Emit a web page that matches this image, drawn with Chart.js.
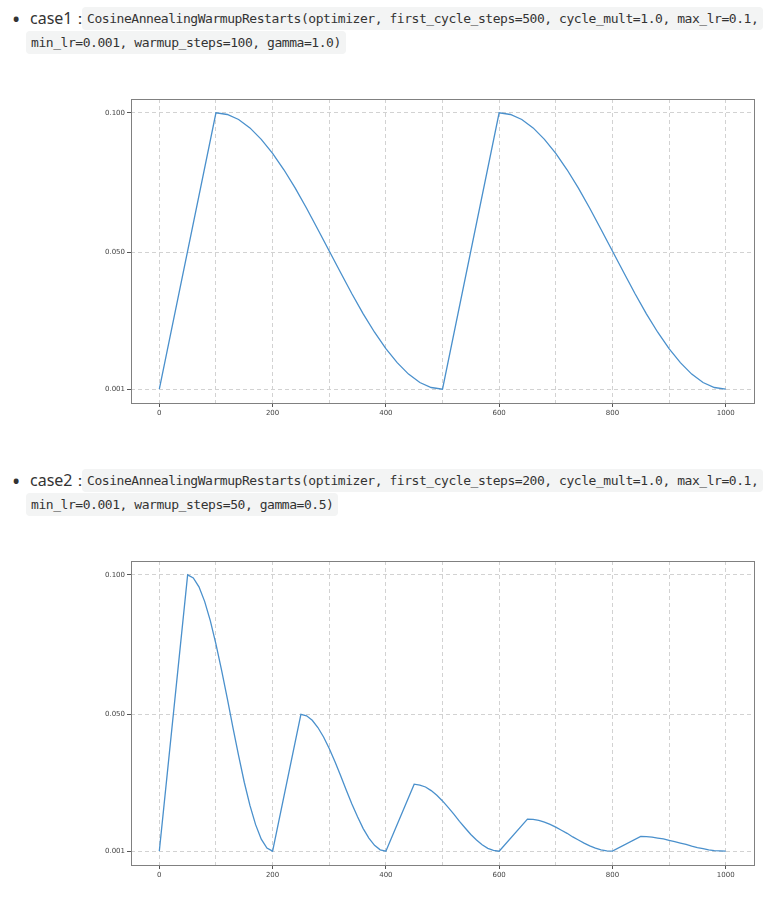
<!DOCTYPE html>
<html>
<head>
<meta charset="utf-8">
<script src="https://cdn.jsdelivr.net/npm/chart.js@4/dist/chart.umd.min.js"></script>
<style>
  body { margin: 0; background: #fff; }
  #page { position: relative; width: 779px; height: 899px; overflow: hidden; font-family: "Noto Sans", "Open Sans", sans-serif; color: #333; }
  .bullet { position: absolute; left: 12px; font-size: 22px; line-height: 24px; }
  .case { position: absolute; left: 30px; font-size: 16px; line-height: 24px; }
  .code { position: absolute; height: 23px; background: #f3f4f4; border-radius: 4px; font-family: "DejaVu Sans Mono", "Liberation Mono", monospace; font-size: 13px; letter-spacing: -0.45px; line-height: 23px; color: #333; padding: 0 5px; white-space: pre; }
  canvas { position: absolute; left: 0; }
</style>
</head>
<body>
<div id="page">
  <div class="bullet" style="top:6px">•</div>
  <div class="case" style="top:6px">case1：</div>
  <div class="code" style="top:7px;left:82px">CosineAnnealingWarmupRestarts(optimizer, first_cycle_steps=500, cycle_mult=1.0, max_lr=0.1,</div>
  <div class="code" style="top:31px;left:26px">min_lr=0.001, warmup_steps=100, gamma=1.0)</div>
  <canvas id="chart1" width="779" height="350" style="top:80px"></canvas>

  <div class="bullet" style="top:468px">•</div>
  <div class="case" style="top:468px">case2：</div>
  <div class="code" style="top:469px;left:82px">CosineAnnealingWarmupRestarts(optimizer, first_cycle_steps=200, cycle_mult=1.0, max_lr=0.1,</div>
  <div class="code" style="top:493px;left:26px">min_lr=0.001, warmup_steps=50, gamma=0.5)</div>
  <canvas id="chart2" width="779" height="350" style="top:540px"></canvas>
</div>
<script>
// case1: two cycles of 500 steps, warmup 100
const case1Steps = [0,
  100, 120, 140, 160, 180, 200, 220, 240, 260, 280, 300, 320, 340, 360, 380, 400, 420, 440, 460, 480, 500,
  600, 620, 640, 660, 680, 700, 720, 740, 760, 780, 800, 820, 840, 860, 880, 900, 920, 940, 960, 980, 1000];
const case1Lr = [0.001,
  0.1, 0.0994, 0.0976, 0.0946, 0.0905, 0.0855, 0.0796, 0.0730, 0.0658, 0.0582, 0.0505, 0.0428, 0.0352, 0.0280, 0.0214, 0.0155, 0.0105, 0.0064, 0.0034, 0.0016, 0.001,
  0.1, 0.0994, 0.0976, 0.0946, 0.0905, 0.0855, 0.0796, 0.0730, 0.0658, 0.0582, 0.0505, 0.0428, 0.0352, 0.0280, 0.0214, 0.0155, 0.0105, 0.0064, 0.0034, 0.0016, 0.001];

// case2: cycles of 200 steps, warmup 50, peak halves every cycle
const case2Steps = [0,
  50, 60, 70, 80, 90, 100, 110, 120, 130, 140, 150, 160, 170, 180, 190, 200,
  250, 260, 270, 280, 290, 300, 310, 320, 330, 340, 350, 360, 370, 380, 390, 400,
  450, 460, 470, 480, 490, 500, 510, 520, 530, 540, 550, 560, 570, 580, 590, 600,
  650, 660, 670, 680, 690, 700, 710, 720, 730, 740, 750, 760, 770, 780, 790, 800,
  850, 860, 870, 880, 890, 900, 910, 920, 930, 940, 950, 960, 970, 980, 990, 1000];
const case2Lr = [0.001,
  0.1, 0.0989, 0.0957, 0.0905, 0.0836, 0.0752, 0.0658, 0.0557, 0.0453, 0.0352, 0.0257, 0.0174, 0.0105, 0.0053, 0.0021, 0.001,
  0.05, 0.0495, 0.0479, 0.0453, 0.0419, 0.0378, 0.0331, 0.0281, 0.0229, 0.0179, 0.0133, 0.0091, 0.0057, 0.0031, 0.0015, 0.001,
  0.025, 0.0247, 0.0240, 0.0227, 0.0210, 0.0190, 0.0167, 0.0143, 0.0117, 0.0093, 0.0070, 0.0050, 0.0033, 0.0020, 0.0013, 0.001,
  0.0125, 0.0124, 0.0120, 0.0114, 0.0106, 0.0096, 0.0085, 0.0074, 0.0061, 0.0050, 0.0039, 0.0029, 0.0021, 0.0015, 0.0011, 0.001,
  0.00625, 0.0062, 0.0060, 0.0057, 0.0054, 0.0049, 0.0044, 0.0039, 0.0034, 0.0028, 0.0023, 0.0019, 0.0015, 0.0012, 0.0011, 0.001];

const xGridValues = [0, 100, 200, 300, 400, 500, 600, 700, 800, 900, 1000];
const xLabelValues = [0, 200, 400, 600, 800, 1000];
const yTickValues = [0.001, 0.05, 0.1];
const yTickLabels = ['0.001', '0.050', '0.100'];

const frame = {
  id: 'frame',
  afterDatasetsDraw(chart) {
    const a = chart.chartArea, ctx = chart.ctx;
    ctx.save();
    ctx.strokeStyle = '#808080';
    ctx.lineWidth = 1;
    ctx.strokeRect(Math.round(a.left) + 0.5, Math.round(a.top) + 0.5, Math.round(a.right - a.left), Math.round(a.bottom - a.top));
    ctx.restore();
  }
};

function makeChart(id, steps, lr, padTop, xAxisH) {
  const grid = { color: '#d2d2d2', lineWidth: 1, tickLength: 4 };
  return new Chart(document.getElementById(id), {
    type: 'line',
    data: {
      datasets: [{
        data: steps.map((s, i) => ({ x: s, y: lr[i] })),
        borderColor: '#4a90cc',
        borderWidth: 1.3,
        pointRadius: 0,
        tension: 0,
        fill: false
      }]
    },
    options: {
      responsive: false,
      animation: false,
      layout: { padding: { left: 0, top: padTop, right: 25, bottom: 0 } },
      plugins: { legend: { display: false }, tooltip: { enabled: false } },
      scales: {
        x: {
          type: 'linear',
          min: -50,
          max: 1050,
          afterBuildTicks: s => { s.ticks = xGridValues.map(v => ({ value: v })); },
          afterFit: s => { s.height = xAxisH; },
          border: { display: false, dash: [4, 3] },
          grid: Object.assign({}, grid, {
            tickColor: c => xLabelValues.includes(c.tick && c.tick.value) ? '#555' : 'rgba(0,0,0,0)'
          }),
          ticks: {
            autoSkip: false,
            maxRotation: 0,
            padding: 2,
            color: '#444',
            font: { family: 'DejaVu Sans', size: 7 },
            callback: v => xLabelValues.includes(v) ? String(v) : ''
          }
        },
        y: {
          type: 'linear',
          min: -0.00395,
          max: 0.10495,
          afterBuildTicks: s => { s.ticks = yTickValues.map(v => ({ value: v })); },
          afterFit: s => { s.width = 131; },
          border: { display: false, dash: [4, 3] },
          grid: Object.assign({}, grid, { tickColor: '#555' }),
          ticks: {
            padding: 2,
            color: '#444',
            font: { family: 'DejaVu Sans', size: 7 },
            callback: v => yTickLabels[yTickValues.indexOf(v)]
          }
        }
      }
    },
    plugins: [frame]
  });
}

makeChart('chart1', case1Steps, case1Lr, 19, 27);
makeChart('chart2', case2Steps, case2Lr, 21, 25);
</script>
</body>
</html>
